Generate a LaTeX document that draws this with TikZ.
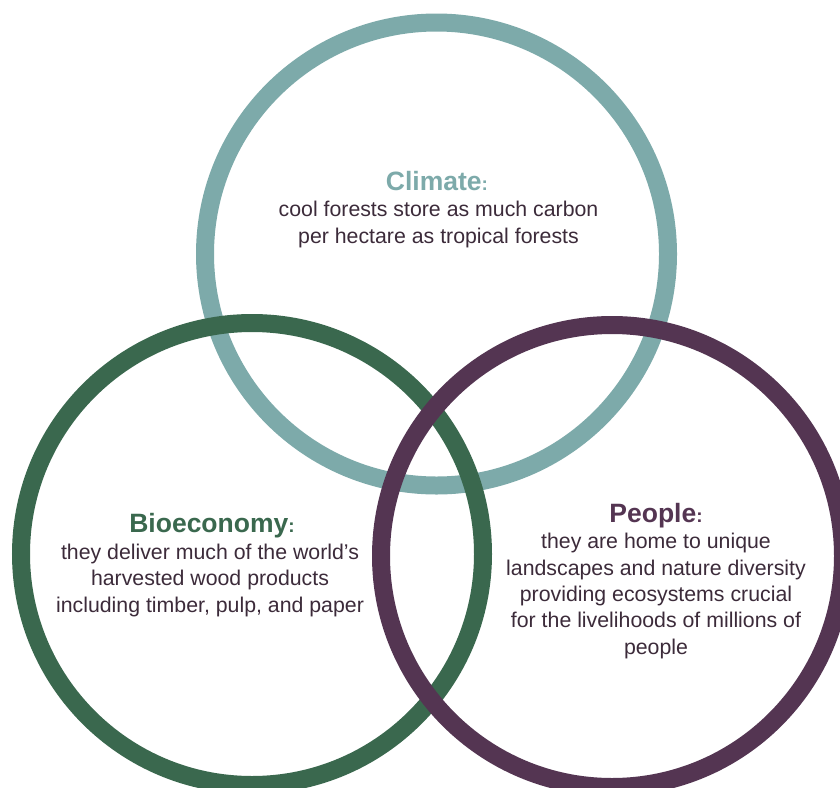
\documentclass[tikz,border=0pt]{standalone}
\usepackage{fontspec}
\setmainfont{Liberation Sans}
\definecolor{cteal}{HTML}{7DAAAA}
\definecolor{cgreen}{HTML}{3A684E}
\definecolor{cpurple}{HTML}{543552}
\definecolor{ctext}{HTML}{3C2B3A}
\begin{document}
\begin{tikzpicture}[x=1pt,y=-1pt,
  ring/.style={line width=18pt},
  ttl/.style={anchor=base,inner sep=0pt,font=\fontsize{26.5}{30}\selectfont\bfseries},
  body/.style={anchor=base,inner sep=0pt,align=center,text=ctext,font=\fontsize{21.3}{26.3}\selectfont}]
\useasboundingbox (0,0) rectangle (840,787);
\clip (0,0) rectangle (840,787);
\fill[white] (0,0) rectangle (840,787);
\node[ring,draw=cteal,circle,minimum size=463pt,inner sep=0pt] (climate) at (436.5,254) {};
\node[ring,draw=cgreen,circle,minimum size=462pt,inner sep=0pt] (bio) at (252,554) {};
\node[ring,draw=cpurple,circle,minimum size=462pt,inner sep=0pt] (people) at (612,556) {};
\node[ttl,text=cteal] (t1) at (437,190) {Climate{\fontsize{19}{22}\selectfont:}};
\node[body] (b1) at (438.5,243) {cool forests store as much carbon\\per hectare as tropical forests};
\node[ttl,text=cgreen] (t2) at (212,532) {Bioeconomy{\fontsize{19}{22}\selectfont:}};
\node[body] (b2) at (210,612) {they deliver much of the world’s\\harvested wood products\\including timber, pulp, and paper};
\node[ttl,text=cpurple] (t3) at (656,522) {People{\fontsize{19}{22}\selectfont:}};
\node[body] (b3) at (656,654) {they are home to unique\\landscapes and nature diversity\\providing ecosystems crucial\\for the livelihoods of millions of\\people};
\end{tikzpicture}
\end{document}
